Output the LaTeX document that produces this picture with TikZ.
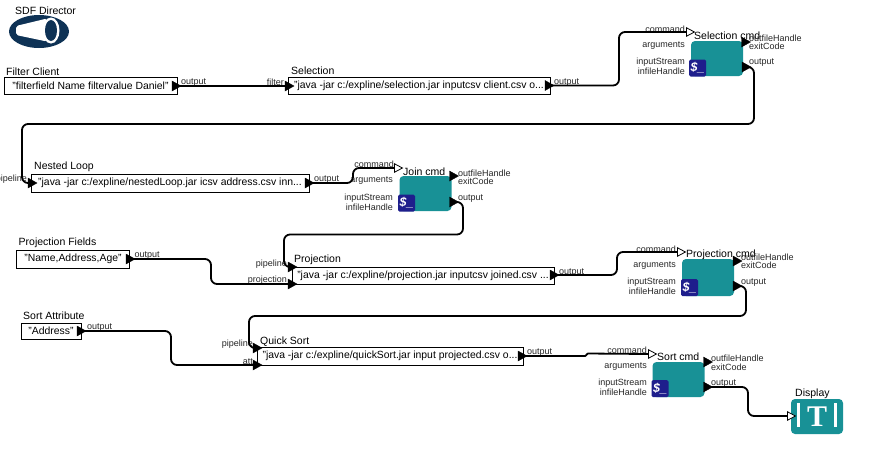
\documentclass[tikz,border=0pt]{standalone}
\usepackage{xcolor}
\usepackage{tikz}
\usepackage{fontspec}
\setmainfont{Liberation Sans}
\newfontfamily\serifface{Liberation Serif}
\usetikzlibrary{shapes.geometric}
\definecolor{cmdteal}{RGB}{24,145,150}
\definecolor{shellblue}{RGB}{30,30,140}
\definecolor{directornavy}{RGB}{14,50,85}
\tikzstyle{strbox} = [rectangle, draw=black, line width=0.8pt, minimum height=17, inner sep=0, font=\fontsize{10.4}{12}\selectfont, text centered]
\tikzstyle{title} = [anchor=west, inner sep=0, yshift=-1pt, text height=8, text depth=2, font=\fontsize{10.5}{12}\selectfont]
\tikzstyle{inlabel} = [anchor=east, inner sep=0, yshift=-0.8pt, text height=7, text depth=2, font=\fontsize{9}{10}\selectfont, text=black!85]
\tikzstyle{outlabel} = [anchor=west, inner sep=0, yshift=-0.8pt, text height=7, text depth=2, font=\fontsize{9}{10}\selectfont, text=black!85]
\tikzstyle{cmdbox} = [rectangle, rounded corners=4, fill=cmdteal, minimum width=52, minimum height=35, inner sep=0]
\tikzstyle{shell} = [rectangle, rounded corners=1.5, fill=shellblue, minimum width=17, minimum height=17, inner sep=0, text=white, font=\fontsize{12.5}{12}\bfseries\itshape\selectfont]
\tikzstyle{port} = [isosceles triangle, isosceles triangle stretches, minimum width=10, minimum height=9, inner sep=0, fill=black, draw=black, line width=0.3pt]
\tikzstyle{multiport} = [port, fill=white, line width=0.8pt, minimum width=8.5, minimum height=8]
\tikzstyle{wire} = [line width=1.8pt, rounded corners=6pt]

\begin{document}
\begin{tikzpicture}[x=1pt,y=-1pt]
	\useasboundingbox (0,0) rectangle (871,448);

	% director
	\node (director) [ellipse, fill=directornavy, minimum width=60, minimum height=33, inner sep=0] at (39,31.5) {};
	\fill [white, rounded corners=2pt] (16,26) -- (47,18.5) -- (51,30) -- (47,41.5) -- (16,35) -- cycle;
	\node (directorrim) [ellipse, fill=white, minimum width=17, minimum height=26, inner sep=0] at (51,30.5) {};
	\node (directorhole) [ellipse, fill=directornavy, minimum width=12, minimum height=21, inner sep=0] at (51,30.5) {};
	\node (directortitle) [title] at (15,10) {SDF Director};

	% string actors
	\node (filter) [strbox, minimum width=173] at (90.5,86) {"filterfield Name filtervalue Daniel"};
	\node (filtertitle) [title] at (6,71.5) {Filter Client};
	\node (selection) [strbox, minimum width=262] at (419,85.5) {"java -jar c:/expline/selection.jar inputcsv client.csv o...};
	\node (selectiontitle) [title] at (291,70.5) {Selection};
	\node (nested) [strbox, minimum width=278, minimum height=18] at (170,183) {"java -jar c:/expline/nestedLoop.jar icsv address.csv inn...};
	\node (nestedtitle) [title] at (34,165) {Nested Loop};
	\node (fields) [strbox, minimum width=113, minimum height=18] at (73,259) {"Name,Address,Age"};
	\node (fieldstitle) [title] at (18.5,241) {Projection Fields};
	\node (projection) [strbox, minimum width=262] at (423,275.5) {"java -jar c:/expline/projection.jar inputcsv joined.csv ...};
	\node (projectiontitle) [title] at (294,258) {Projection};
	\node (attribute) [strbox, minimum width=60, minimum height=16] at (51,331) {"Address"};
	\node (attributetitle) [title] at (23,315.5) {Sort Attribute};
	\node (quick) [strbox, minimum width=266, minimum height=18] at (390,356) {"java -jar c:/expline/quickSort.jar input projected.csv o...};
	\node (quicktitle) [title] at (260,340) {Quick Sort};

	% command boxes
	\node (selcmd) [cmdbox] at (717,58.5) {};
	\node (selshell) [shell] at (697.5,68) {\$\_};
	\node (selcmdtitle) [title] at (694,35) {Selection cmd};
	\node (joincmd) [cmdbox] at (425.5,193.5) {};
	\node (joinshell) [shell] at (406.5,203) {\$\_};
	\node (joincmdtitle) [title] at (403,171) {Join cmd};
	\node (projcmd) [cmdbox, minimum height=37] at (708,277.5) {};
	\node (projshell) [shell] at (689.5,287.5) {\$\_};
	\node (projcmdtitle) [title] at (686,253) {Projection cmd};
	\node (sortcmd) [cmdbox] at (678.5,379.5) {};
	\node (sortshell) [shell] at (660,388.5) {\$\_};
	\node (sortcmdtitle) [title] at (657,356) {Sort cmd};

	% display
	\node (display) [rectangle, rounded corners=4, fill=cmdteal, minimum width=52, minimum height=35, inner sep=0, text=white, font=\serifface\fontsize{30}{30}\bfseries\selectfont] at (817,416.5) {T};
	\fill [white] (797,403) rectangle (799.5,427);
	\fill [white] (834,403) rectangle (836.5,427);
	\node (displaytitle) [title] at (795,392) {Display};

	% ports
	\node (filterout) [port] at (175,86) {};
	\node (selfilter) [port] at (288,86) {};
	\node (selout) [port] at (548,85.5) {};
	\node (selcommand) [multiport] at (689,32) {};
	\node (seloutfile) [port] at (744.5,42) {};
	\node (selcmdout) [port] at (745,67) {};
	\node (nestedpipe) [port] at (31,183) {};
	\node (nestedout) [port] at (308,183) {};
	\node (joincommand) [multiport] at (397,168) {};
	\node (joinoutfile) [port] at (452.5,176) {};
	\node (joincmdout) [port] at (452.5,202) {};
	\node (fieldsout) [port] at (129,259) {};
	\node (projpipe) [port] at (291,267) {};
	\node (projfields) [port] at (291,284) {};
	\node (projout) [port] at (553,275) {};
	\node (projcommand) [multiport] at (680,252) {};
	\node (projoutfile) [port] at (736,261) {};
	\node (projcmdout) [port] at (736,286) {};
	\node (attributeout) [port] at (80,331) {};
	\node (quickpipe) [port] at (256,348) {};
	\node (quickatt) [port] at (256,365) {};
	\node (quickout) [port] at (521,356) {};
	\node (sortcommand) [multiport] at (651,354) {};
	\node (sortoutfile) [port] at (706.5,362) {};
	\node (sortcmdout) [port] at (706.5,387) {};
	\node (displayin) [multiport] at (790,416) {};

	% port labels
	\node (filteroutlabel) [outlabel] at (181,81) {output};
	\node (selfilterlabel) [inlabel] at (284,82) {filter};
	\node (seloutlabel) [outlabel] at (554,81) {output};
	\node (selcommandlabel) [inlabel] at (685,29) {command};
	\node (selarglabel) [inlabel] at (685,44) {arguments};
	\node (selinlabel) [inlabel] at (685,61) {inputStream};
	\node (selinfilelabel) [inlabel] at (685,71) {infileHandle};
	\node (seloutfilelabel) [outlabel] at (749,38) {outfileHandle};
	\node (selexitlabel) [outlabel] at (749,46) {exitCode};
	\node (selcmdoutlabel) [outlabel] at (749,61) {output};

	\node (nestedpipelabel) [inlabel] at (27,178) {pipeline};
	\node (nestedoutlabel) [outlabel] at (314,178) {output};
	\node (joincommandlabel) [inlabel] at (394,164) {command};
	\node (joinarglabel) [inlabel] at (393,179) {arguments};
	\node (joininlabel) [inlabel] at (393,197) {inputStream};
	\node (joininfilelabel) [inlabel] at (393,207) {infileHandle};
	\node (joinoutfilelabel) [outlabel] at (458,173) {outfileHandle};
	\node (joinexitlabel) [outlabel] at (458,181) {exitCode};
	\node (joincmdoutlabel) [outlabel] at (458,197) {output};

	\node (fieldsoutlabel) [outlabel] at (134.5,254) {output};
	\node (projpipelabel) [inlabel] at (287,263) {pipeline};
	\node (projfieldslabel) [inlabel] at (287,279) {projection};
	\node (projoutlabel) [outlabel] at (559,271) {output};
	\node (projcommandlabel) [inlabel] at (676,249) {command};
	\node (projarglabel) [inlabel] at (676,264) {arguments};
	\node (projinlabel) [inlabel] at (676,281) {inputStream};
	\node (projinfilelabel) [inlabel] at (676,291) {infileHandle};
	\node (projoutfilelabel) [outlabel] at (741,257) {outfileHandle};
	\node (projexitlabel) [outlabel] at (741,265) {exitCode};
	\node (projcmdoutlabel) [outlabel] at (741,281) {output};

	\node (attributeoutlabel) [outlabel] at (87,326) {output};
	\node (quickpipelabel) [inlabel] at (253,343) {pipeline};
	\node (quickattlabel) [inlabel] at (253,361) {att};
	\node (quickoutlabel) [outlabel] at (527,351) {output};
	\node (sortcommandlabel) [inlabel] at (647,350) {command};
	\node (sortarglabel) [inlabel] at (647,365) {arguments};
	\node (sortinlabel) [inlabel] at (647,382) {inputStream};
	\node (sortinfilelabel) [inlabel] at (647,392) {infileHandle};
	\node (sortoutfilelabel) [outlabel] at (711,358) {outfileHandle};
	\node (sortexitlabel) [outlabel] at (711,367) {exitCode};
	\node (sortcmdoutlabel) [outlabel] at (711,382) {output};

	% connectors
	\draw [wire] (filterout.center) -- (selfilter.center);
	\draw [wire] (selout.center) -- (619,85.5) -- (619,32) -- (selcommand.west);
	\draw [wire] (selcmdout.center) -- (754,67) -- (754,124) -- (22,124) -- (22,183) -- (nestedpipe.center);
	\draw [wire] (nestedout.center) -- (353,183) -- (353,168) -- (joincommand.west);
	\draw [wire] (joincmdout.center) -- (463,202) -- (463,234.5) -- (284,234.5) -- (284,267) -- (projpipe.center);
	\draw [wire] (fieldsout.center) -- (211,259) -- (211,284) -- (projfields.center);
	\draw [wire] (projout.center) -- (617,275) -- (617,252) -- (projcommand.west);
	\draw [wire] (projcmdout.center) -- (746,286) -- (746,316) -- (249,316) -- (249,348) -- (quickpipe.center);
	\draw [wire] (attributeout.center) -- (171,331) -- (171,365) -- (quickatt.center);
	\draw [wire, rounded corners=1pt] (quickout.center) -- (586,356) -- (587,353.5) -- (sortcommand.west);
	\draw [wire] (sortcmdout.center) -- (748,387) -- (748,416) -- (displayin.west);

\end{tikzpicture}
\end{document}
